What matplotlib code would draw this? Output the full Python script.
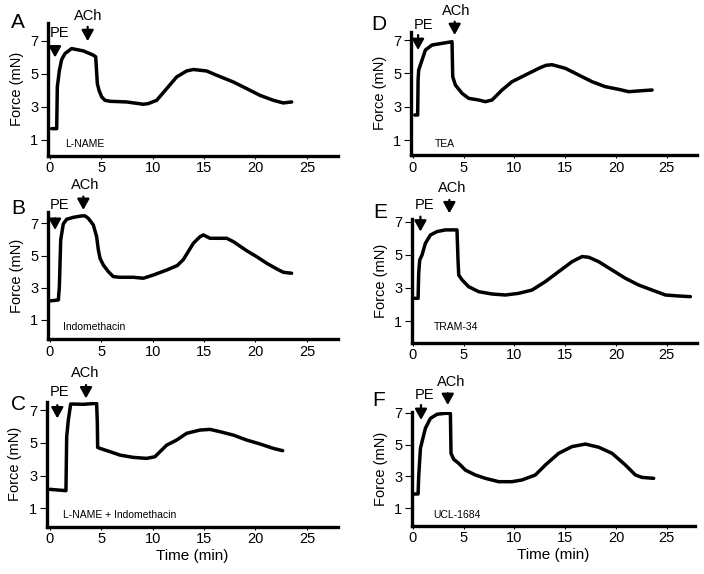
import matplotlib
matplotlib.use("Agg")
import matplotlib.pyplot as plt

plt.rcParams['font.family'] = ['Liberation Sans', 'DejaVu Sans']

# ---------------- data (time in min, force in mN) ----------------
a_time = [0.19, 0.68, 0.74, 0.94, 1.16, 1.49, 2.13, 3.27, 4.24, 4.47, 4.63, 4.79, 5.05, 5.37, 5.86,
          7.48, 9.10, 9.58, 10.4, 11.37, 12.34, 13.31, 13.96, 15.25, 16.23, 17.85, 19.14, 20.44,
          21.73, 22.7, 23.51]
a_force = [1.67, 1.67, 4.2, 5.2, 5.86, 6.23, 6.53, 6.39, 6.13, 6.03, 4.4, 4.0, 3.6, 3.39, 3.33,
           3.29, 3.15, 3.19, 3.39, 4.1, 4.81, 5.17, 5.26, 5.17, 4.91, 4.5, 4.1, 3.69,
           3.39, 3.23, 3.29]

b_time = [-0.04, 0.84, 0.94, 1.07, 1.32, 1.65, 2.3, 3.11, 3.43, 3.75, 4.24, 4.56, 4.73, 4.89, 5.21,
          5.7, 6.18, 6.83, 8.13, 9.1, 10.07, 11.37, 12.4, 12.99, 13.96, 14.61, 14.93, 15.58,
          17.2, 17.85, 19.14, 20.11, 21.09, 22.06, 22.7, 23.51]
b_force = [2.18, 2.24, 3.07, 5.97, 6.96, 7.25, 7.37, 7.46, 7.46, 7.31, 6.9, 6.17, 5.34, 4.83, 4.41,
           4.0, 3.69, 3.65, 3.65, 3.59, 3.79, 4.1, 4.38, 4.75, 5.76, 6.17, 6.28, 6.07,
           6.07, 5.86, 5.3, 4.93, 4.52, 4.17, 3.96, 3.9]

c_time = [0.03, 1.58, 1.65, 1.81, 2.04, 3.27, 4.56, 4.63, 4.66, 4.89, 5.86, 6.83, 8.13, 9.42, 10.23,
          10.72, 11.37, 12.34, 13.31, 14.61, 15.58, 16.55, 17.85, 19.14, 20.44, 21.73, 22.64]
c_force = [2.16, 2.08, 5.37, 6.39, 7.37, 7.35, 7.41, 6.19, 4.72, 4.66, 4.46, 4.25, 4.11, 4.05, 4.15,
           4.46, 4.86, 5.17, 5.58, 5.78, 5.82, 5.68, 5.47, 5.17, 4.93, 4.66, 4.52]

d_time = [0.19, 0.48, 0.52, 0.58, 0.91, 1.24, 1.89, 2.88, 3.86, 3.93, 4.19, 4.85, 5.5, 6.49, 7.14,
          7.8, 8.78, 9.77, 10.75, 11.74, 12.5, 13.1, 13.7, 14.3, 15.02, 16.33, 17.64, 18.95, 20.27,
          21.25, 22.56, 23.55]
d_force = [2.5, 2.5, 4.6, 5.2, 5.8, 6.4, 6.7, 6.8, 6.9, 4.8, 4.3, 3.8, 3.5, 3.4, 3.3,
           3.4, 4.0, 4.5, 4.8, 5.1, 5.33, 5.48, 5.52, 5.42, 5.3, 4.9, 4.5, 4.2, 4.04,
           3.9, 3.96, 4.0]

e_time = [0.09, 0.52, 0.58, 0.68, 0.91, 1.24, 1.73, 2.39, 3.21, 3.86, 4.35, 4.45, 4.52, 4.85, 5.5,
          6.49, 7.8, 9.11, 10.42, 11.74, 13.05, 14.36, 15.67, 16.66, 17.31, 18.3, 19.61, 20.92,
          22.24, 23.55, 24.86, 26.17, 27.32]
e_force = [2.37, 2.37, 3.88, 4.68, 4.99, 5.69, 6.19, 6.4, 6.5, 6.5, 6.5, 4.68, 3.78, 3.48, 3.07,
           2.77, 2.63, 2.57, 2.67, 2.87, 3.38, 3.98, 4.58, 4.89, 4.85, 4.58, 4.08, 3.58,
           3.17, 2.87, 2.57, 2.51, 2.47]

f_time = [0.02, 0.52, 0.58, 0.75, 0.91, 1.24, 1.73, 2.39, 3.21, 3.7, 3.76, 4.03, 4.52, 5.17, 6.16,
          7.14, 8.46, 9.77, 10.75, 12.06, 13.05, 14.36, 15.67, 16.99, 18.3, 19.61, 20.92, 21.91,
          22.56, 23.71]
f_force = [1.9, 1.9, 2.99, 4.76, 5.18, 6.02, 6.64, 6.9, 6.96, 6.96, 4.45, 4.07, 3.82, 3.4, 3.09,
           2.88, 2.67, 2.67, 2.78, 3.09, 3.72, 4.45, 4.87, 5.03, 4.83, 4.45, 3.72, 3.09,
           2.94, 2.88]

panel_letters = ['A', 'B', 'C', 'D', 'E', 'F']
treatments = ['L-NAME', 'Indomethacin', 'L-NAME + Indomethacin', 'TEA', 'TRAM-34', 'UCL-1684']
x_ticks = [0, 5, 10, 15, 20, 25]
y_ticks = [1, 3, 5, 7]

# ---------------- layout (figure pixels) ----------------
W, H = 704, 574
fig = plt.figure(figsize=(W / 100, H / 100), dpi=100)

panels = [
    dict(t=a_time, f=a_force, rect=(48, 22.7, 338, 155.5), ylim=(0.04, 8.1), x0=49.7, s=10.29,
         pe=(0.52, 6.63, 5.99, 1.0, 7.45), ach=(3.69, 7.85, 6.98, 3.75, 8.52), let=(18, 22.5), lab=(1.49, 0.71)),
    dict(t=b_time, f=b_force, rect=(48, 211.7, 338, 339.3), ylim=(-0.2, 7.72), x0=49.7, s=10.29,
         pe=(0.52, 7.31, 6.59, 1.0, 8.14), ach=(3.27, 8.66, 7.83, 3.43, 9.38), let=(18, 209), lab=(1.33, 0.58)),
    dict(t=c_time, f=c_force, rect=(47, 401.7, 338, 526.7), ylim=(-0.12, 7.51), x0=49.7, s=10.29,
         pe=(0.74, 7.3, 6.49, 1.0, 8.12), ach=(3.53, 8.53, 7.71, 3.43, 9.24), let=(18, 404), lab=(1.33, 0.59)),
    dict(t=d_time, f=d_force, rect=(411, 31.7, 697, 155), ylim=(0.1, 7.5), x0=412.8, s=10.16,
         pe=(0.52, 7.3, 6.4, 1.07, 7.9), ach=(4.12, 8.1, 7.3, 4.26, 8.74), let=(379, 24), lab=(2.16, 0.76)),
    dict(t=e_time, f=e_force, rect=(412, 219.3, 697, 342.7), ylim=(-0.31, 7.14), x0=412.8, s=10.16,
         pe=(0.75, 7.3, 6.4, 1.17, 8.0), ach=(3.6, 8.31, 7.5, 3.86, 9.0), let=(380, 212), lab=(2.06, 0.66)),
    dict(t=f_time, f=f_force, rect=(412, 411.7, 695, 525.7), ylim=(-0.09, 7.06), x0=412.8, s=10.16,
         pe=(0.81, 7.48, 6.54, 1.17, 8.1), ach=(3.44, 8.21, 7.48, 3.76, 8.94), let=(379, 400), lab=(2.06, 0.58)),
]

for i, p in enumerate(panels):
    l, t, r, b = p['rect']
    ax = fig.add_axes([l / W, 1 - b / H, (r - l) / W, (b - t) / H])
    ax.plot(p['t'], p['f'], color='black', lw=2.5, solid_joinstyle='round', solid_capstyle='round')
    ax.set_xlim((l - p['x0']) / p['s'], (r - p['x0']) / p['s'])
    ax.set_ylim(*p['ylim'])
    ax.set_xticks(x_ticks)
    ax.set_yticks(y_ticks)
    ax.set_xticklabels([str(v) for v in x_ticks])
    ax.set_yticklabels([str(v) for v in y_ticks])
    for sp in ['top', 'right']:
        ax.spines[sp].set_visible(False)
    for sp in ['left', 'bottom']:
        ax.spines[sp].set_linewidth(2.4)
    ax.tick_params(axis='x', direction='out', length=2, width=0.8, pad=2, labelsize=10.5)
    ax.tick_params(axis='y', direction='out', length=5, width=0.8, pad=2, labelsize=10.5)
    ax.set_ylabel('Force (mN)', fontsize=10.5)
    ax.yaxis.set_label_coords(-24.5 / (r - l), 0.5)
    if i in (2, 5):
        ax.set_xlabel('Time (min)', fontsize=11, labelpad=2)

    for key, txt in (('pe', 'PE'), ('ach', 'ACh')):
        x, top, tip, tx, ty = p[key]
        ax.annotate('', xy=(x, tip), xytext=(x, top),
                    arrowprops=dict(arrowstyle='-|>,head_width=0.36,head_length=0.65', lw=1.6,
                                    color='black', shrinkA=0, shrinkB=0, mutation_scale=10),
                    annotation_clip=False)
        ax.text(tx, ty, txt, ha='center', va='center', fontsize=10.5, clip_on=False)

    ax.text(p['lab'][0], p['lab'][1], treatments[i], ha='left', va='center', fontsize=7.5)
    fig.text(p['let'][0] / W, 1 - p['let'][1] / H, panel_letters[i], ha='center', va='center',
             fontsize=15)

fig.savefig('out.png', dpi=100)
